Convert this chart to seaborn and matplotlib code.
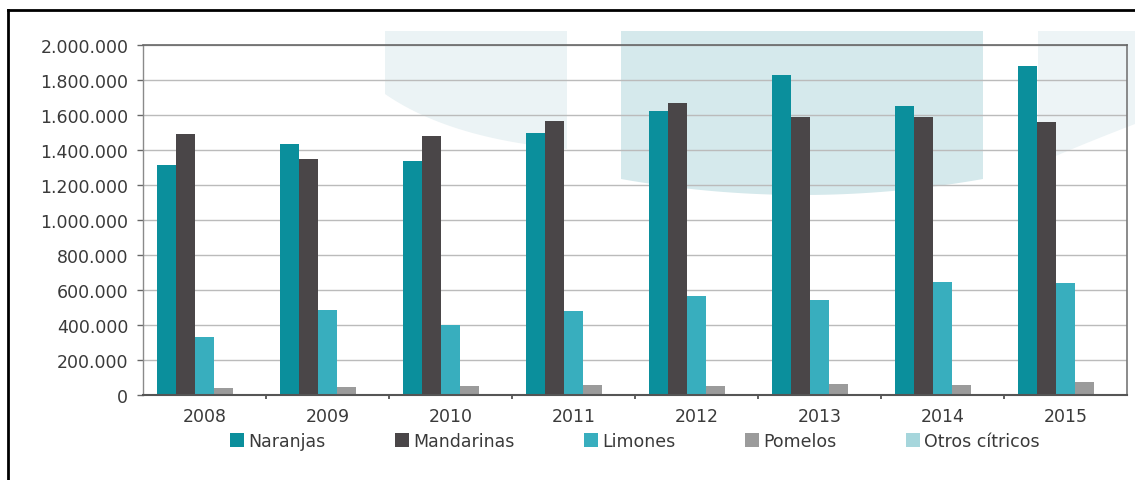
import numpy as np
import pandas as pd
import matplotlib
matplotlib.use("Agg")
import matplotlib.pyplot as plt
from matplotlib.lines import Line2D
from matplotlib.patches import Polygon
from matplotlib.ticker import FuncFormatter, FixedLocator
import seaborn as sns

# Producción de cítricos por campaña (toneladas)
years = ["2008", "2009", "2010", "2011", "2012", "2013", "2014", "2015"]
naranjas = [1316000, 1434000, 1335000, 1499000, 1621000, 1829000, 1653000, 1880000]
mandarinas = [1491000, 1349000, 1480000, 1567000, 1667000, 1590000, 1590000, 1562000]
limones = [330000, 486000, 402000, 478000, 564000, 543000, 648000, 642000]
pomelos = [39000, 46000, 53000, 57000, 53000, 63000, 57000, 72000]
otros = [7000, 7000, 7000, 8000, 8000, 8000, 8000, 8000]

series_names = ["Naranjas", "Mandarinas", "Limones", "Pomelos", "Otros cítricos"]
series_values = [naranjas, mandarinas, limones, pomelos, otros]
series_colors = ["#0B8F9C", "#4A4648", "#38AEBE", "#9B9B9B", "#A6D6DC"]

df = pd.DataFrame(
    [(y, name, v) for name, vals in zip(series_names, series_values)
     for y, v in zip(years, vals)],
    columns=["Año", "Producto", "Toneladas"],
)

sns.set_style("white")
plt.rcParams["font.family"] = ["DejaVu Sans"]

W, H = 1135, 481
fig = plt.figure(figsize=(W / 100, H / 100), dpi=100)
fig.patch.set_facecolor("white")


def fx(px):
    return px / W


def fy(py):
    return 1 - py / H


def bezier(p0, p1, p2, n=40):
    t = np.linspace(0, 1, n)[:, None]
    p0, p1, p2 = map(np.asarray, (p0, p1, p2))
    return (1 - t) ** 2 * p0 + 2 * (1 - t) * t * p1 + t ** 2 * p2


def add_shape(points_px, color):
    pts = np.array([(fx(x), fy(y)) for x, y in points_px])
    fig.add_artist(Polygon(pts, closed=True, facecolor=color, edgecolor="none",
                           transform=fig.transFigure, zorder=-1))


# decorative background panels
shape1 = [(385, 32), (567, 32), (567, 150)] + list(bezier((567, 150), (450, 140), (385, 95)))
add_shape(shape1, "#EBF3F5")
shape2 = [(621, 32), (983, 32), (983, 180)] + list(bezier((983, 180), (802, 212), (621, 180)))
add_shape(shape2, "#D5E9EC")
shape3 = [(1038, 32), (1135, 32), (1135, 125)] + list(bezier((1135, 125), (1070, 150), (1038, 165)))
add_shape(shape3, "#EDF4F6")

ax = fig.add_axes([fx(143), fy(396), fx(1127) - fx(143), fy(46) - fy(396)])
ax.set_facecolor("none")

sns.barplot(data=df, x="Año", y="Toneladas", hue="Producto", hue_order=series_names,
            palette=series_colors, width=0.775, saturation=1, linewidth=0,
            errorbar=None, ax=ax)

ax.set_xlim(-0.5, 7.5)
ax.set_ylim(0, 2_000_000)
ax.set_xlabel("")
ax.set_ylabel("")
ax.yaxis.set_major_locator(FixedLocator(np.arange(0, 2_000_001, 200_000)))
ax.yaxis.set_major_formatter(FuncFormatter(lambda v, _: f"{int(round(v)):,}".replace(",", ".")))

ax.grid(axis="y", color="#BBBBBB", lw=1.0)
ax.grid(axis="x", visible=False)
ax.set_axisbelow(True)

text_color = "#3A3A3A"
ax.tick_params(axis="y", left=True, length=4.3, width=1, color="#666666", pad=6.3,
               labelsize=12.5, labelcolor=text_color)
ax.tick_params(axis="x", which="major", bottom=True, length=0, pad=8.5,
               labelsize=12.5, labelcolor=text_color)
ax.set_xticks(np.arange(0.5, 7.5, 1), minor=True)
ax.tick_params(axis="x", which="minor", bottom=True, length=3, width=1.2, color="#444444")

for side, col, lw in [("left", "#8A8A8A", 1.0), ("top", "#666666", 1.2),
                      ("right", "#777777", 1.2), ("bottom", "#555555", 1.5)]:
    ax.spines[side].set_visible(True)
    ax.spines[side].set_color(col)
    ax.spines[side].set_linewidth(lw)

handles, labels = ax.get_legend_handles_labels()
if ax.get_legend() is not None:
    ax.get_legend().remove()
leg = fig.legend(handles, labels, loc="center", bbox_to_anchor=(fx(635), fy(442)),
                 ncol=5, frameon=False, fontsize=12.5, handlelength=0.8, handleheight=0.8,
                 handletextpad=0.25, columnspacing=4.0, labelcolor=text_color)
for h in leg.legend_handles:
    h.set_edgecolor("none")

# outer frame (left and top edges)
fig.add_artist(Line2D([fx(8), fx(8)], [0, fy(11)], transform=fig.transFigure,
                      color="black", lw=2.0, solid_capstyle="projecting"))
fig.add_artist(Line2D([fx(8), 1], [fy(11), fy(11)], transform=fig.transFigure,
                      color="black", lw=2.0, solid_capstyle="projecting"))

fig.savefig("out.png", dpi=100, facecolor="white")
